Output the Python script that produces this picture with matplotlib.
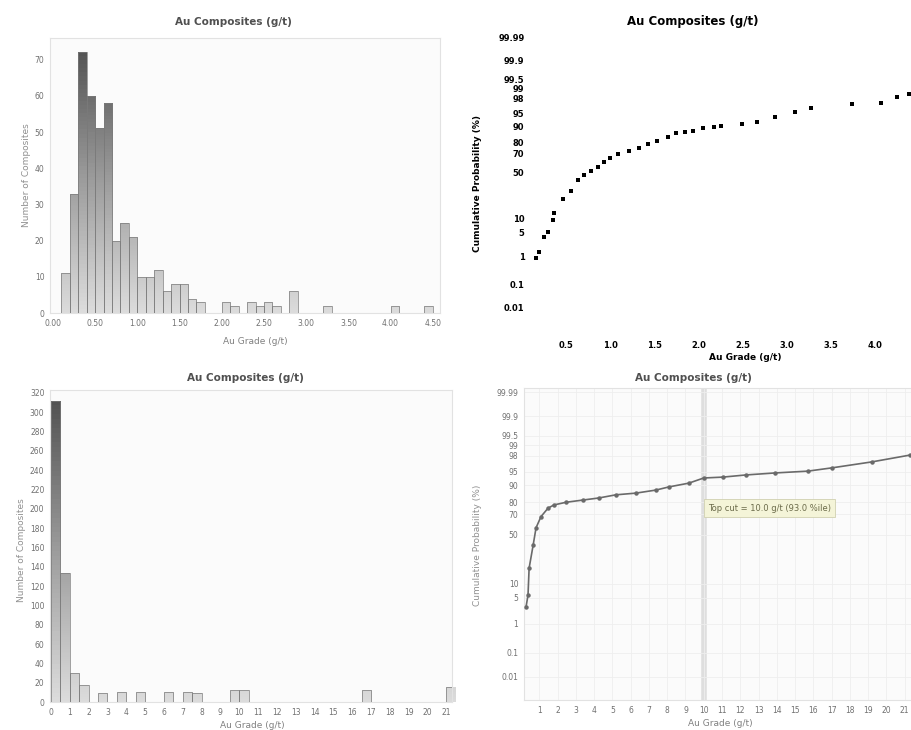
import math
import numpy as np
import matplotlib
matplotlib.use("Agg")
import matplotlib.pyplot as plt
from matplotlib.colors import LinearSegmentedColormap

# ---- data ----
# top-left histogram (bins of 0.1 g/t)
tl_bin_left = [0.1, 0.2, 0.3, 0.4, 0.5, 0.6, 0.7, 0.8, 0.9, 1.0, 1.1, 1.2, 1.3, 1.4, 1.5,
               1.6, 1.7, 2.0, 2.1, 2.3, 2.4, 2.5, 2.6, 2.8, 3.2, 4.0, 4.4]
tl_counts = [11, 33, 72, 60, 51, 58, 20, 25, 21, 10, 10, 12, 6, 8, 8,
             4, 3, 3, 2, 3, 2, 3, 2, 6, 2, 2, 2]

# top-right probability plot
tr_grade = [0.16, 0.19, 0.25, 0.29, 0.35, 0.36, 0.46, 0.55, 0.63, 0.70, 0.78, 0.86,
            0.93, 1.00, 1.09, 1.21, 1.32, 1.43, 1.53, 1.65, 1.74, 1.85, 1.94, 2.05,
            2.17, 2.25, 2.49, 2.66, 2.87, 3.09, 3.28, 3.74, 4.07, 4.25, 4.39]
tr_cum = [0.9, 1.4, 3.8, 5.0, 9.5, 13.0, 23.0, 31.0, 42.0, 47.0, 52.0, 56.0,
          61.0, 66.0, 69.5, 72.0, 75.0, 78.5, 81.0, 84.0, 86.0, 87.0, 87.5, 89.0,
          89.6, 90.0, 91.0, 92.0, 93.7, 95.3, 96.2, 97.1, 97.3, 98.2, 98.5]

# bottom-left histogram (bins of 0.5 g/t)
bl_bin_left = [0.0, 0.5, 1.0, 1.5, 2.5, 3.5, 4.5, 6.0, 7.0, 7.5, 9.5, 10.0, 16.5, 21.0]
bl_counts = [312, 134, 30, 18, 9, 10, 10, 10, 10, 9, 12, 12, 12, 16]

# bottom-right probability plot
br_grade = [0.27, 0.38, 0.44, 0.66, 0.82, 1.09, 1.48, 1.80, 2.46, 3.39, 4.26, 5.19,
            6.28, 7.38, 8.09, 9.18, 10.0, 11.04, 12.3, 13.9, 15.7, 17.0, 19.2, 21.3]
br_cum = [2.9, 5.7, 19.0, 39.0, 57.0, 68.0, 75.5, 78.0, 80.0, 81.6, 83.0, 85.0,
          86.0, 87.7, 89.3, 91.0, 93.0, 93.3, 94.0, 94.6, 95.1, 95.9, 97.1, 98.1]
top_cut = 10.0

prob_ticks = [0.01, 0.1, 1, 5, 10, 50, 70, 80, 90, 95, 98, 99, 99.5, 99.9, 99.99]


# ---- normal probability scale ----
_a = [-3.969683028665376e+01, 2.209460984245205e+02, -2.759285104469687e+02,
      1.383577518672690e+02, -3.066479806614716e+01, 2.506628277459239e+00]
_b = [-5.447609879822406e+01, 1.615858368580409e+02, -1.556989798598866e+02,
      6.680131188771972e+01, -1.328068155288572e+01]
_c = [-7.784894002430293e-03, -3.223964580411365e-01, -2.400758277161838e+00,
      -2.549732539343734e+00, 4.374664141464968e+00, 2.938163982698783e+00]
_d = [7.784695709041462e-03, 3.224671290700398e-01, 2.445134137142996e+00,
      3.754408661907416e+00]


def _ppf(p):
    p = np.clip(np.asarray(p, dtype=float), 1e-12, 1 - 1e-12)
    q = p - 0.5
    r = q * q
    mid = (((((_a[0]*r+_a[1])*r+_a[2])*r+_a[3])*r+_a[4])*r+_a[5])*q / \
          (((((_b[0]*r+_b[1])*r+_b[2])*r+_b[3])*r+_b[4])*r+1)
    ql = np.sqrt(-2*np.log(p))
    low = (((((_c[0]*ql+_c[1])*ql+_c[2])*ql+_c[3])*ql+_c[4])*ql+_c[5]) / \
          ((((_d[0]*ql+_d[1])*ql+_d[2])*ql+_d[3])*ql+1)
    qh = np.sqrt(-2*np.log(1-p))
    high = -(((((_c[0]*qh+_c[1])*qh+_c[2])*qh+_c[3])*qh+_c[4])*qh+_c[5]) / \
           ((((_d[0]*qh+_d[1])*qh+_d[2])*qh+_d[3])*qh+1)
    return np.where(p < 0.02425, low, np.where(p > 1 - 0.02425, high, mid))


_erf = np.vectorize(math.erf)


def pct_to_z(pct):
    return _ppf(np.asarray(pct, dtype=float) / 100.0)


def z_to_pct(z):
    return 50.0 * (1 + _erf(np.asarray(z, dtype=float) / math.sqrt(2)))


W, H = 912, 730
fig = plt.figure(figsize=(W / 100, H / 100), dpi=100)


def px_axes(l, t, r, b):
    return fig.add_axes([l / W, 1 - b / H, (r - l) / W, (b - t) / H])


bar_cmap = LinearSegmentedColormap.from_list("bars", ["#dcdcdc", "#9a9a9a", "#4e4e4e"])
grey_txt = "#707070"


def gradient_bars(ax, lefts, counts, width, ymax):
    bars = ax.bar(lefts, counts, width=width, align="edge", color="none",
                  edgecolor="#7a7a7a", linewidth=0.5, zorder=3)
    for b in bars:
        x0, h = b.get_x(), b.get_height()
        grad = np.linspace(0, h, 64).reshape(-1, 1)
        im = ax.imshow(grad, extent=[x0, x0 + width, 0, h], origin="lower",
                       cmap=bar_cmap, vmin=0, vmax=ymax, aspect="auto", zorder=2)
        im.set_clip_path(b)


def soft_panel(ax):
    ax.set_facecolor("#fbfbfb")
    for s in ax.spines.values():
        s.set_color("#e2e2e2")
        s.set_linewidth(0.8)
    ax.tick_params(length=0, labelsize=5.5, colors=grey_txt, pad=4)


# ---- top-left: histogram ----
ax1 = px_axes(50, 38, 440, 313)
soft_panel(ax1)
gradient_bars(ax1, tl_bin_left, tl_counts, 0.1, 76)
ax1.set_xlim(-0.035, 4.585)
ax1.set_ylim(0, 76)
ax1.set_xticks(np.arange(0, 4.51, 0.5))
ax1.set_xticklabels(["%.2f" % v for v in np.arange(0, 4.51, 0.5)])
ax1.set_yticks(range(0, 71, 10))
fig.text(233 / W, 1 - 22 / H, "Au Composites (g/t)", ha="center", va="center",
         fontsize=7.5, color="#505050", fontweight="bold")
fig.text(27 / W, 1 - 175 / H, "Number of Composites", rotation=90, ha="center",
         va="center", fontsize=6.5, color="#909090")
fig.text(255 / W, 1 - 342 / H, "Au Grade (g/t)", ha="center", va="center",
         fontsize=6.5, color="#808080")

# ---- top-right: probability plot ----
ax2 = px_axes(530, 30, 912, 330)
ax2.set_yscale("function", functions=(pct_to_z, z_to_pct))
ax2.plot(tr_grade, tr_cum, ls="none", marker="s", ms=2.4, color="black", mew=0)
ax2.set_xlim(0.09, 4.42)
ax2.set_ylim(float(z_to_pct(-4.35)), float(z_to_pct(3.94)))
ax2.set_yticks(prob_ticks)
ax2.set_yticklabels([("%g" % v) for v in prob_ticks])
ax2.yaxis.set_minor_locator(matplotlib.ticker.NullLocator())
ax2.set_xticks(np.arange(0.5, 4.01, 0.5))
ax2.set_xticklabels(["%.1f" % v for v in np.arange(0.5, 4.01, 0.5)])
for s in ax2.spines.values():
    s.set_visible(False)
ax2.tick_params(length=0, labelsize=6, colors="black", pad=4)
ax2.tick_params(axis="x", pad=8)
for lab in ax2.get_xticklabels() + ax2.get_yticklabels():
    lab.set_fontweight("bold")
fig.text(693 / W, 1 - 22 / H, "Au Composites (g/t)", ha="center", va="center",
         fontsize=8.5, color="black", fontweight="bold")
fig.text(478 / W, 1 - 183 / H, "Cumulative Probability (%)", rotation=90, ha="center",
         va="center", fontsize=6.5, color="black", fontweight="bold")
fig.text(745 / W, 1 - 357 / H, "Au Grade (g/t)", ha="center", va="center",
         fontsize=6.5, color="black", fontweight="bold")

# ---- bottom-left: histogram ----
ax3 = px_axes(50, 390, 452, 702)
soft_panel(ax3)
gradient_bars(ax3, bl_bin_left, bl_counts, 0.5, 323)
ax3.set_xlim(-0.05, 21.3)
ax3.set_ylim(0, 323)
ax3.set_xticks(range(0, 22))
ax3.set_yticks(range(0, 321, 20))
fig.text(245 / W, 1 - 378 / H, "Au Composites (g/t)", ha="center", va="center",
         fontsize=7.5, color="#505050", fontweight="bold")
fig.text(22 / W, 1 - 550 / H, "Number of Composites", rotation=90, ha="center",
         va="center", fontsize=6.5, color="#909090")
fig.text(252 / W, 1 - 726 / H, "Au Grade (g/t)", ha="center", va="center",
         fontsize=6.5, color="#808080")

# ---- bottom-right: probability plot with top cut ----
ax4 = px_axes(524, 388, 912, 700)
soft_panel(ax4)
ax4.set_yscale("function", functions=(pct_to_z, z_to_pct))
ax4.grid(True, color="#eeeeee", linewidth=0.6, zorder=0)
ax4.axvline(top_cut, color="#dedede", linewidth=4, zorder=1)
ax4.plot(br_grade, br_cum, color="#6a6a6a", linewidth=1.2, marker="o", ms=2.2,
         zorder=3)
ax4.set_xlim(0.16, 21.4)
ax4.set_ylim(float(z_to_pct(-4.32)), float(z_to_pct(3.825)))
ax4.set_yticks(prob_ticks)
ax4.set_yticklabels([("%g" % v) for v in prob_ticks])
ax4.yaxis.set_minor_locator(matplotlib.ticker.NullLocator())
ax4.set_xticks(range(1, 22))
ax4.text(13.6, 75.5, "Top cut = 10.0 g/t (93.0 %ile)", ha="center", va="center",
         fontsize=6, color="#6b6b4a", zorder=4,
         bbox=dict(boxstyle="square,pad=0.5", facecolor="#f4f4d8",
                   edgecolor="#d0d0b0", linewidth=0.6))
fig.text(693 / W, 1 - 378 / H, "Au Composites (g/t)", ha="center", va="center",
         fontsize=7.5, color="#505050", fontweight="bold")
fig.text(478 / W, 1 - 545 / H, "Cumulative Probability (%)", rotation=90,
         ha="center", va="center", fontsize=6.5, color="#909090")
fig.text(720 / W, 1 - 724 / H, "Au Grade (g/t)", ha="center", va="center",
         fontsize=6.5, color="#808080")

fig.savefig("out.png", dpi=100)
